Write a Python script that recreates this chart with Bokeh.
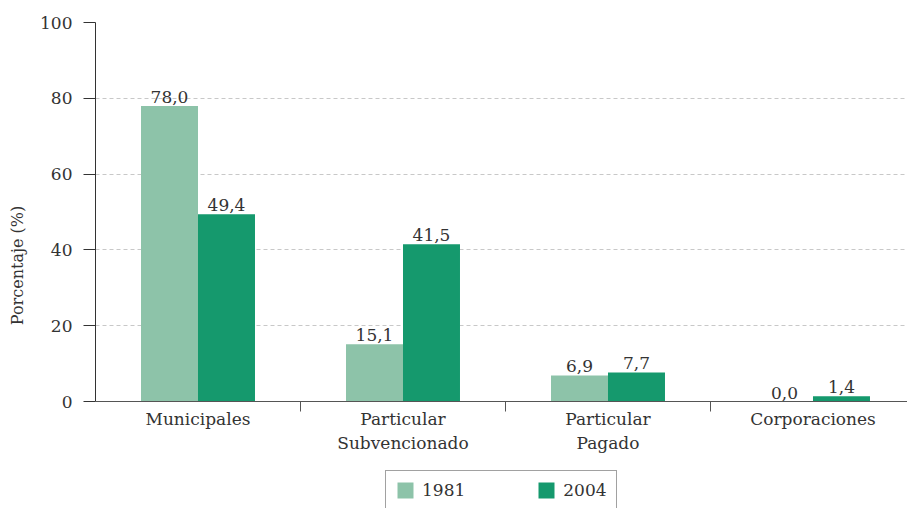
import numpy as np
from bokeh.plotting import figure
from bokeh.models import ColumnDataSource, FixedTicker, LabelSet, Legend, LegendItem, Range1d
from bokeh.core.properties import value
from bokeh.embed import file_html
from bokeh.resources import INLINE

categories = ["Municipales", "Particular\nSubvencionado", "Particular\nPagado", "Corporaciones"]
years = ["1981", "2004"]
values_1981 = [78.0, 15.1, 6.9, 0.0]
values_2004 = [49.4, 41.5, 7.7, 1.4]
y_ticks = [0, 20, 40, 60, 80, 100]

FONT = "DejaVu Serif"
TXT = "#333333"
C1 = "#8dc3a9"
C2 = "#15996d"

n = len(categories)
centers = np.arange(n) + 0.5
bw = 0.278


def fmt(v):
    return f"{v:.1f}".replace(".", ",")


p = figure(width=907, height=508, output_backend="svg", toolbar_location=None,
           x_range=Range1d(0, 3.961), y_range=Range1d(-28.2, 100),
           min_border_left=95, min_border_right=0, min_border_top=22, min_border_bottom=0)
p.outline_line_color = None
p.background_fill_color = "white"
p.border_fill_color = "white"

src1 = ColumnDataSource(dict(x=centers - bw / 2, top=values_1981, label=[fmt(v) for v in values_1981]))
src2 = ColumnDataSource(dict(x=centers + bw / 2, top=values_2004, label=[fmt(v) for v in values_2004]))

r1 = p.vbar(x="x", top="top", bottom=0, width=bw, fill_color=C1, line_color=None, source=src1)
r2 = p.vbar(x="x", top="top", bottom=0, width=bw, fill_color=C2, line_color=None, source=src2)

for src in (src1, src2):
    p.add_layout(LabelSet(x="x", y="top", text="label", source=src, text_align="center",
                          text_baseline="bottom", y_offset=3, text_font=value(FONT),
                          text_font_size="17px", text_color=TXT))

# grid
p.xgrid.visible = False
p.ygrid.grid_line_color = "#c8c8c8"
p.ygrid.grid_line_dash = "4 3"
p.ygrid.grid_line_width = 1

# y axis
p.yaxis.ticker = FixedTicker(ticks=y_ticks)
p.yaxis.bounds = (y_ticks[0], y_ticks[-1])
p.yaxis.major_tick_out = 12
p.yaxis.major_tick_in = 0
p.yaxis.minor_tick_line_color = None
p.yaxis.axis_line_color = TXT
p.yaxis.major_tick_line_color = TXT
p.yaxis.major_label_text_font = FONT
p.yaxis.major_label_text_font_size = "17px"
p.yaxis.major_label_text_color = TXT
p.yaxis.major_label_standoff = 11
p.yaxis.axis_label = "Porcentaje (%)"
p.yaxis.axis_label_text_font = FONT
p.yaxis.axis_label_text_font_style = "normal"
p.yaxis.axis_label_text_font_size = "16px"
p.yaxis.axis_label_text_color = TXT
p.yaxis.axis_label_standoff = 10

# x axis (sits at y = 0 inside the extended frame)
p.xaxis.fixed_location = 0
p.xaxis.ticker = FixedTicker(ticks=[float(c) for c in centers],
                             minor_ticks=[float(v) for v in np.arange(1, n)])
p.xaxis.major_label_overrides = {float(c): cat for c, cat in zip(centers, categories)}
p.xaxis.major_tick_line_color = None
p.xaxis.major_tick_out = 0
p.xaxis.major_tick_in = 0
p.xaxis.minor_tick_out = 10
p.xaxis.minor_tick_in = 0
p.xaxis.minor_tick_line_color = "#555555"
p.xaxis.axis_line_color = "#555555"
p.xaxis.major_label_text_font = FONT
p.xaxis.major_label_text_font_size = "17px"
p.xaxis.major_label_text_color = TXT
p.xaxis.major_label_standoff = -3

legend = Legend(items=[LegendItem(label=value(years[0]), renderers=[r1]),
                       LegendItem(label=value(years[1]), renderers=[r2])],
                orientation="horizontal", location=(290, -2), padding=9, spacing=71,
                label_standoff=7, glyph_width=20, glyph_height=20,
                border_line_color="#444444", border_line_width=1,
                label_text_font=FONT, label_text_font_size="17px", label_text_color=TXT,
                margin=0, background_fill_alpha=1)
p.add_layout(legend)

open("out.html", "w").write(file_html(p, INLINE))
